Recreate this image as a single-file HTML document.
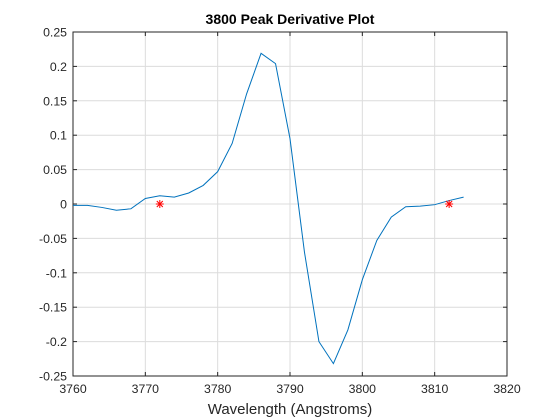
<!DOCTYPE html>
<html><head><meta charset="utf-8"><style>
body{margin:0;background:#fff;}
svg{display:block;font-family:"Liberation Sans",sans-serif;}
</style></head><body>
<svg id="c" width="560" height="420"></svg>
<script>
const xs=[3760,3762,3764,3766,3768,3770,3772,3774,3776,3778,3780,3782,3784,3786,3788,3790,3792,3794,3796,3798,3800,3802,3804,3806,3808,3810,3812,3814];
const ys=[-0.002,-0.002,-0.005,-0.009,-0.007,0.008,0.012,0.010,0.016,0.027,0.047,0.088,0.160,0.219,0.204,0.095,-0.07,-0.2,-0.232,-0.183,-0.11,-0.053,-0.019,-0.004,-0.003,-0.001,0.005,0.010];
const markX=[3772,3812];
const markY=[0,0];
const xTicks=[3760,3770,3780,3790,3800,3810,3820];
const yTicks=[-0.25,-0.2,-0.15,-0.1,-0.05,0,0.05,0.1,0.15,0.2,0.25];
const L=73,R=507,T=32,B=376;
const sx=v=>L+(v-3760)/60*(R-L);
const sy=v=>B-(v+0.25)/0.5*(B-T);
const svg=document.getElementById('c');
const NS='http://www.w3.org/2000/svg';
function mk(t,a,p){const e=document.createElementNS(NS,t);for(const k in a)e.setAttribute(k,a[k]);(p||svg).appendChild(e);return e;}
mk('rect',{x:L,y:T,width:R-L,height:B-T,fill:'#fff'});
xTicks.forEach(v=>{
const g=mk('line',{x1:sx(v),x2:sx(v),y1:T,y2:B,stroke:'#dcdcdc','stroke-width':1});


mk('line',{x1:sx(v),x2:sx(v),y1:B,y2:B-4,stroke:'#262626'});
mk('line',{x1:sx(v),x2:sx(v),y1:T,y2:T+4,stroke:'#262626'});
const t=mk('text',{x:sx(v),y:B+17,'text-anchor':'middle','font-size':12.3,fill:'#262626'});t.textContent=v;


});
yTicks.forEach(v=>{
const g=mk('line',{x1:L,x2:R,y1:sy(v),y2:sy(v),stroke:'#dcdcdc','stroke-width':1});


mk('line',{x1:L,x2:L+4,y1:sy(v),y2:sy(v),stroke:'#262626'});
mk('line',{x1:R,x2:R-4,y1:sy(v),y2:sy(v),stroke:'#262626'});
const t=mk('text',{x:L-6,y:sy(v)+4.5,'text-anchor':'end','font-size':12.3,fill:'#262626'});t.textContent=String(v);


});
const box=mk('rect',{x:L,y:T,width:R-L,height:B-T,fill:'none',stroke:'#262626','stroke-width':1});


const line=mk('polyline',{points:xs.map((x,i)=>sx(x)+','+sy(ys[i])).join(' '),fill:'none',stroke:'#0072bd','stroke-width':1});


markX.forEach((x,i)=>{
const g=mk('g',{stroke:'#ff0000','stroke-width':1});


const cx=sx(x),cy=sy(markY[i]),r=4;
mk('line',{x1:cx-r,x2:cx+r,y1:cy,y2:cy},g);
mk('line',{x1:cx,x2:cx,y1:cy-r,y2:cy+r},g);
mk('line',{x1:cx-3,x2:cx+3,y1:cy-3,y2:cy+3},g);
mk('line',{x1:cx-3,x2:cx+3,y1:cy+3,y2:cy-3},g);
});
const tt=mk('text',{x:(L+R)/2,y:24,'text-anchor':'middle','font-size':14,'font-weight':'bold',fill:'#000'});tt.textContent='3800 Peak Derivative Plot';


const xl=mk('text',{x:(L+R)/2,y:414,'text-anchor':'middle','font-size':15,fill:'#262626'});xl.textContent='Wavelength (Angstroms)';


</script>
</body></html>
